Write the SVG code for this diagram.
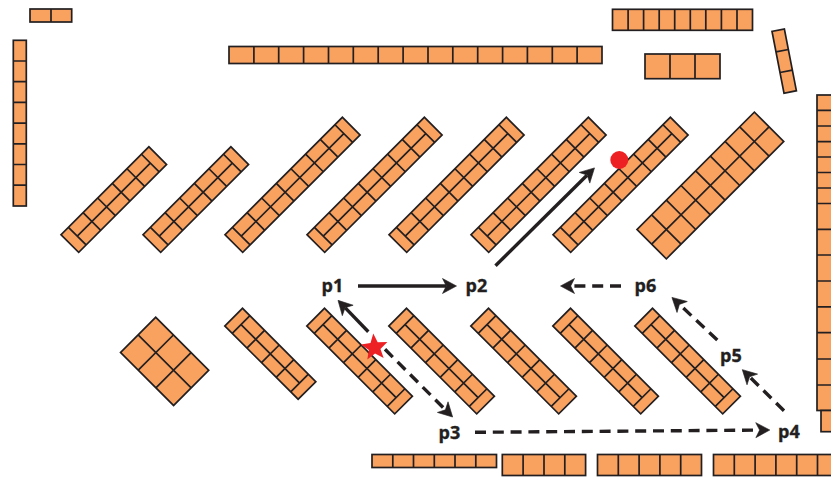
<svg xmlns="http://www.w3.org/2000/svg" xmlns:xlink="http://www.w3.org/1999/xlink" width="831" height="477" viewBox="0 0 831 477">
<style>
.s{fill:#f9a15f;stroke:#231f20;stroke-width:1.7}
.g{fill:none;stroke:#231f20;stroke-width:1.7}
.c{fill:none;stroke:#231f20;stroke-width:3.4}
.d{stroke-dasharray:11 6.8}
.t{font-family:"Open Sans","Noto Sans",sans-serif;font-weight:700;font-size:18px;fill:#231f20;stroke:#231f20;stroke-width:.35}
</style>
<defs>
<marker id="ah" markerUnits="userSpaceOnUse" markerWidth="20" markerHeight="20" refX="3.5" refY="7.5" orient="auto" overflow="visible"><path d="M0,0L14,7.5L0,15L3.8,7.5z" fill="#231f20" stroke="#231f20" stroke-width=".6"/></marker>
<g id="r104"><rect class="s" width="103.7" height="25"/><path class="g" d="M10.5,0V25M31.2,0V25M51.9,0V25M72.6,0V25M93.2,0V25M10.5,12.5H93.2"/></g>
<g id="r124"><rect class="s" width="124.3" height="25"/><path class="g" d="M10.5,0V25M31.2,0V25M51.9,0V25M72.6,0V25M93.3,0V25M113.8,0V25M10.5,12.5H113.8"/></g>
<g id="r166"><rect class="s" width="166" height="25"/><path class="g" d="M10.5,0V25M31.2,0V25M51.9,0V25M72.6,0V25M93.3,0V25M114,0V25M134.7,0V25M155.5,0V25M10.5,12.5H155.5"/></g>
</defs>
<g id="top-left-pair"><rect class="s" x="30" y="9" width="41.7" height="13"/><path class="g" d="M51,9V22"/></g>
<g id="left-column"><rect class="s" x="13.3" y="40.3" width="13" height="165.7"/><path class="g" d="M13.3,61H26.3M13.3,81.7H26.3M13.3,102.4H26.3M13.3,123.1H26.3M13.3,143.8H26.3M13.3,164.5H26.3M13.3,185.2H26.3"/></g>
<g id="top-row"><rect class="s" x="229" y="46.5" width="373" height="17"/><path class="g" d="M253.9,46.5V63.5M278.7,46.5V63.5M303.6,46.5V63.5M328.5,46.5V63.5M353.3,46.5V63.5M378.2,46.5V63.5M403.1,46.5V63.5M428,46.5V63.5M452.8,46.5V63.5M477.7,46.5V63.5M502.6,46.5V63.5M527.4,46.5V63.5M552.3,46.5V63.5M577.1,46.5V63.5"/></g>
<g id="top-right-row"><rect class="s" x="612.5" y="9.3" width="140" height="21"/><path class="g" d="M628.1,9.3V30.3M643.6,9.3V30.3M659.2,9.3V30.3M674.7,9.3V30.3M690.3,9.3V30.3M705.8,9.3V30.3M721.4,9.3V30.3M737,9.3V30.3"/></g>
<g id="small-block"><rect class="s" x="645" y="54" width="75" height="24.7"/><path class="g" d="M670,54V78.7M695,54V78.7"/></g>
<g id="tilted-block" transform="translate(772,31.3) rotate(-11)"><rect class="s" width="12.6" height="63"/><path class="g" d="M0,21H12.6M0,42H12.6"/></g>
<g id="right-column"><rect class="s" x="817" y="95" width="20" height="315.5"/><path class="g" d="M817,110.3H831M817,126H831M817,141.6H831M817,157H831M817,172.5H831M817,188H831M817,203.5H831M817,229.3H831M817,255H831M817,281H831M817,306.8H831M817,332.7H831M817,359H831M817,385H831"/></g>
<g id="right-stub"><rect class="s" x="821" y="410.5" width="16" height="21.2"/></g>
<g id="bottom-row-1"><rect class="s" x="372" y="454.5" width="124.5" height="13"/><path class="g" d="M392.8,454.5V467.5M413.5,454.5V467.5M434.3,454.5V467.5M455,454.5V467.5M475.8,454.5V467.5"/></g>
<g id="bottom-row-2"><rect class="s" x="502.3" y="454.5" width="83.3" height="21"/><path class="g" d="M523.1,454.5V475.5M544,454.5V475.5M564.8,454.5V475.5"/></g>
<g id="bottom-row-3"><rect class="s" x="597.5" y="454.5" width="104" height="21"/><path class="g" d="M618.3,454.5V475.5M639.1,454.5V475.5M659.9,454.5V475.5M680.7,454.5V475.5"/></g>
<g id="bottom-row-4"><rect class="s" x="713.5" y="454.5" width="125" height="21"/><path class="g" d="M734.3,454.5V475.5M755.1,454.5V475.5M775.9,454.5V475.5M796.7,454.5V475.5M817.5,454.5V475.5"/></g>
<g id="upper-rack-1"><use href="#r124" transform="translate(61,234.7) rotate(-45)"/></g>
<g id="upper-rack-2"><use href="#r124" transform="translate(143,234.7) rotate(-45)"/></g>
<g id="upper-rack-3"><use href="#r166" transform="translate(225,234.7) rotate(-45)"/></g>
<g id="upper-rack-4"><use href="#r166" transform="translate(307,234.7) rotate(-45)"/></g>
<g id="upper-rack-5"><use href="#r166" transform="translate(389,234.7) rotate(-45)"/></g>
<g id="upper-rack-6"><use href="#r166" transform="translate(471,234.7) rotate(-45)"/></g>
<g id="upper-rack-7"><use href="#r166" transform="translate(553,234.7) rotate(-45)"/></g>
<g id="upper-rack-big" transform="translate(637,229.5) rotate(-45)"><rect class="s" width="166" height="41.5"/><path class="g" d="M20.75,0V41.5M41.5,0V41.5M62.25,0V41.5M83,0V41.5M103.75,0V41.5M124.5,0V41.5M145.25,0V41.5M0,20.75H166"/></g>
<g id="lower-block" transform="translate(155.7,317.3) rotate(45)"><rect class="s" width="75" height="49.7"/><path class="g" d="M25,0V49.7M50,0V49.7M0,24.85H75"/></g>
<g id="lower-rack-1"><use href="#r104" transform="translate(242.5,308.3) rotate(45)"/></g>
<g id="lower-rack-2"><use href="#r124" transform="translate(324.5,308.3) rotate(45)"/></g>
<g id="lower-rack-3"><use href="#r124" transform="translate(406.5,308.3) rotate(45)"/></g>
<g id="lower-rack-4"><use href="#r124" transform="translate(488.5,308.3) rotate(45)"/></g>
<g id="lower-rack-5"><use href="#r124" transform="translate(570.5,308.3) rotate(45)"/></g>
<g id="lower-rack-6"><use href="#r124" transform="translate(652.5,308.3) rotate(45)"/></g>
<g id="connectors">
<path class="c" marker-end="url(#ah)" d="M358,286H446"/>
<path class="c" marker-end="url(#ah)" d="M495.5,265.7L587,175.3"/>
<path class="c" marker-end="url(#ah)" d="M368.3,331.7L345.3,307.9"/>
<path class="c d" marker-end="url(#ah)" d="M385,349.3L445.2,409.6"/>
<path class="c d" marker-end="url(#ah)" d="M475,432.3L759.3,430.1"/>
<path class="c d" marker-end="url(#ah)" d="M784,410.7L749.8,377"/>
<path class="c d" marker-end="url(#ah)" d="M717.3,340L679.6,304.6"/>
<path class="c d" marker-end="url(#ah)" d="M621,286H571"/>
</g>
<g id="start-star"><polygon fill="#ed2024" transform="translate(374.5,347.5) rotate(-5)" points="0,-14 3.6,-4.9 13.3,-4.3 5.8,1.9 8.2,11.3 0,6.1 -8.2,11.3 -5.8,1.9 -13.3,-4.3 -3.6,-4.9"/></g>
<g id="end-dot"><circle fill="#ed2024" cx="619.3" cy="160" r="9"/></g>
<g id="p1"><text class="t" x="321.5" y="292">p1</text></g>
<g id="p2"><text class="t" x="465.5" y="292">p2</text></g>
<g id="p3"><text class="t" x="438.5" y="439">p3</text></g>
<g id="p4"><text class="t" x="778" y="438">p4</text></g>
<g id="p5"><text class="t" x="720" y="362">p5</text></g>
<g id="p6"><text class="t" x="634.5" y="292">p6</text></g>
</svg>
